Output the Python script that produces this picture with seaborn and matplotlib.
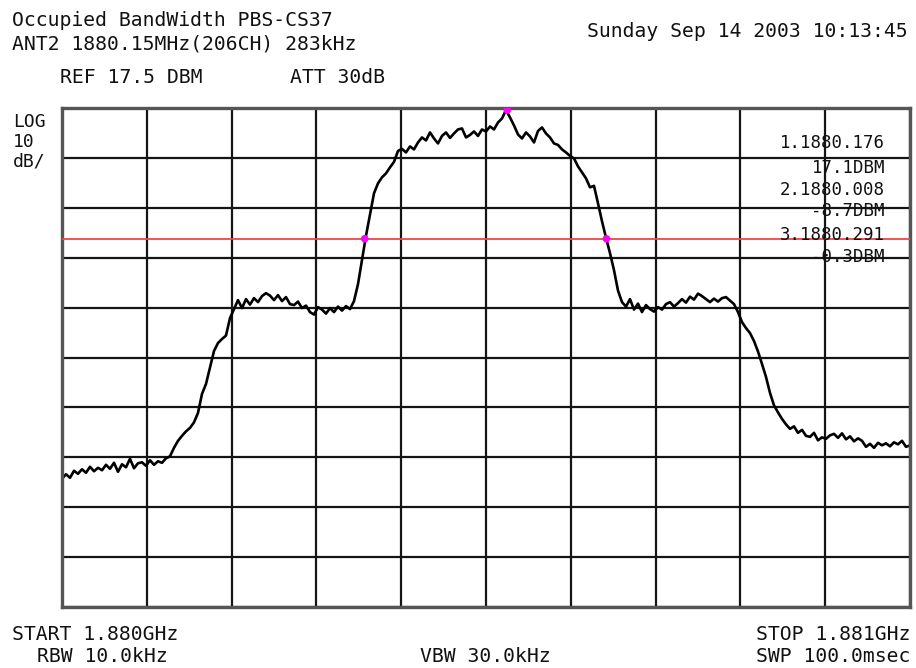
import numpy as np
import pandas as pd
import matplotlib
matplotlib.use("Agg")
import matplotlib.pyplot as plt
import seaborn as sns

# trace levels (dBm), 213 sweep points from 1880.0 to 1881.0 MHz
level_dbm = [
    -56.8, -55.9, -56.6, -55.2, -55.8, -54.9, -55.6, -54.4, -55.3, -54.6,
    -55.1, -54.0, -54.8, -53.6, -55.4, -53.9, -54.5, -52.8, -54.7, -53.7,
    -53.5, -54.2, -53.1, -54.0, -53.3, -53.6, -52.7, -52.3, -50.6, -49.2,
    -48.2, -47.3, -46.6, -45.5, -43.6, -39.8, -37.8, -34.5, -31.2, -29.6,
    -28.8, -28.1, -24.6, -22.8, -21.0, -22.6, -20.8, -21.9, -20.6, -21.4,
    -20.2, -19.6, -20.1, -21.0, -20.0, -21.2, -20.4, -21.8, -22.0, -21.3,
    -22.6, -22.1, -23.4, -23.9, -22.4, -22.9, -23.7, -22.6, -23.4, -22.3,
    -23.1, -22.2, -22.8, -21.2, -17.8, -12.9, -8.1, -3.8, 0.4, 2.4,
    3.6, 4.4, 5.6, 6.7, 8.9, 9.3, 8.6, 9.8, 9.2, 10.6,
    11.6, 11.0, 12.6, 11.4, 10.4, 11.9, 12.6, 11.5, 12.4, 13.2,
    13.4, 11.6, 12.1, 12.8, 11.9, 13.2, 12.8, 13.8, 13.2, 14.6,
    15.4, 17.1, 15.6, 14.0, 12.2, 11.4, 12.6, 11.8, 10.6, 12.9,
    13.6, 12.4, 11.6, 10.4, 10.1, 9.2, 8.6, 7.9, 7.4, 5.8,
    4.6, 3.4, 1.6, 1.9, -1.6, -5.2, -8.5, -11.6, -15.0, -19.1,
    -21.4, -22.3, -20.8, -22.9, -21.7, -23.4, -22.0, -22.8, -23.3, -22.4,
    -22.9, -21.8, -21.4, -22.3, -21.6, -20.8, -21.5, -20.3, -20.9, -19.7,
    -20.2, -20.8, -21.4, -20.7, -21.3, -20.6, -20.4, -21.1, -21.8, -23.4,
    -25.4, -26.6, -27.6, -29.2, -31.3, -33.8, -36.4, -39.6, -42.1, -43.5,
    -44.8, -45.9, -46.8, -46.3, -47.6, -47.0, -48.2, -48.4, -47.6, -49.1,
    -48.5, -48.8, -48.1, -47.8, -48.6, -47.7, -48.9, -48.3, -49.3, -48.7,
    -49.2, -50.4, -49.8, -50.6, -49.6, -50.1, -49.7, -50.3, -49.5, -49.9,
    -49.2, -50.4, -50.1,
]
start_mhz = 1880.0
stop_mhz = 1881.0
ref_dbm = 17.5
db_per_div = 10

# markers as shown on the screen
marker_mhz = [1880.525, 1880.357, 1880.642]
marker_dbm = [17.1, -8.7, -8.7]
marker_text = ["1.1880.176", "17.1DBM", "2.1880.008", "-8.7DBM", "3.1880.291", "-0.3DBM"]
obw_level = -8.7

df = pd.DataFrame({
    "freq": np.linspace(start_mhz, stop_mhz, len(level_dbm)),
    "level": level_dbm,
})
mk = pd.DataFrame({"freq": marker_mhz, "level": marker_dbm})

sns.set_style("white")
plt.rcParams['font.family'] = ['DejaVu Sans Mono', 'DejaVu Sans']
plt.rcParams['text.color'] = '#111111'

fig = plt.figure(figsize=(9.16, 6.68), dpi=100)
ax = fig.add_axes([62/916, 1-607/668, 848/916, 499/668])

sns.lineplot(data=df, x="freq", y="level", color="black", lw=1.9, ax=ax)
ax.axhline(obw_level, color="#f04545", lw=1.3, zorder=3)
sns.scatterplot(data=mk, x="freq", y="level", color="#ff00ff", s=30,
                edgecolor="none", zorder=5, ax=ax)

ax.set_xlim(start_mhz, stop_mhz)
ax.set_ylim(ref_dbm - 10 * db_per_div, ref_dbm)
ax.set_xticks(np.linspace(start_mhz, stop_mhz, 11))
ax.set_yticks(np.arange(ref_dbm - 10 * db_per_div, ref_dbm + 1, db_per_div))
ax.grid(True, color="#151515", lw=1.6)
ax.set_axisbelow(True)
ax.tick_params(length=0, labelbottom=False, labelleft=False)
ax.set_xlabel("")
ax.set_ylabel("")
for s in ax.spines.values():
    s.set_color("#555555")
    s.set_linewidth(2.4)

# marker readout
ys = [143, 168, 190, 211, 235, 257]
for t, y in zip(marker_text, ys):
    fig.text(885/916, 1-y/668, t, ha="right", va="center", fontsize=12.5)

fs = 14.2
def txt(x, y, s, ha="left"):
    fig.text(x/916, 1-y/668, s, ha=ha, va="baseline", fontsize=fs)

txt(12, 26, "Occupied BandWidth PBS-CS37")
txt(12, 50, "ANT2 1880.15MHz(206CH) 283kHz")
txt(908, 37, "Sunday Sep 14 2003 10:13:45", ha="right")
txt(60, 83, "REF 17.5 DBM")
txt(290, 83, "ATT 30dB")
for s, y in zip(["LOG", "10", "dB/"], [127, 147, 166]):
    fig.text(13/916, 1-y/668, s, ha="left", va="baseline", fontsize=13)
txt(12, 640, "START 1.880GHz")
txt(37, 662, "RBW 10.0kHz")
txt(420, 662, "VBW 30.0kHz")
txt(910, 640, "STOP 1.881GHz", ha="right")
txt(910, 662, "SWP 100.0msec", ha="right")

fig.savefig("out.png", dpi=100)
